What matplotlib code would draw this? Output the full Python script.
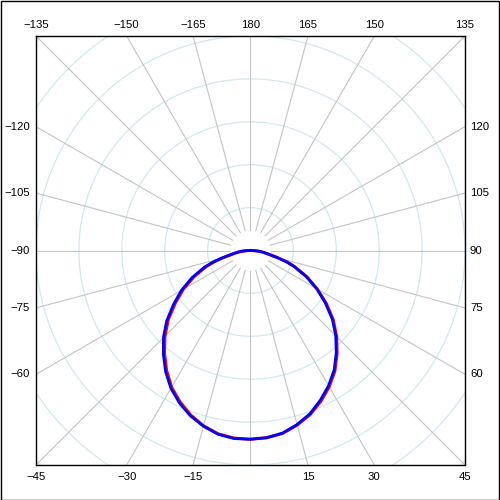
import numpy as np
import matplotlib.pyplot as plt

# pattern angles (deg, 0 = down, 90 = right) and radius (grid ring = 10)
angles = [-90, -87.5, -85, -82.5, -80, -77.5, -75, -72.5, -70, -65, -60, -55,
          -50, -45, -40, -35, -30, -25, -20, -15, -10, -5, 0, 5, 10, 15, 20,
          25, 30, 35, 40, 45, 50, 55, 60, 65, 70, 72.5, 75, 77.5, 80, 82.5,
          85, 87.5, 90]
red_r = [0.0, 1.0, 2.0, 2.8, 3.7, 4.8, 6.8, 9.0, 11.0, 14.6, 18.1, 21.4,
         25.0, 28.2, 31.2, 34.1, 36.8, 38.9, 40.8, 42.3, 43.4, 43.9, 44.0,
         43.8, 43.3, 42.1, 40.7, 38.8, 36.7, 34.3, 31.4, 28.4, 25.2, 21.6,
         18.0, 14.5, 10.9, 9.0, 6.7, 4.8, 3.7, 2.8, 2.0, 1.0, 0.0]
blue_r = [0.0, 1.0, 2.1, 3.0, 4.0, 5.1, 7.2, 9.4, 11.5, 15.1, 18.6, 21.9,
          25.5, 28.7, 31.6, 34.5, 37.1, 39.2, 41.0, 42.4, 43.5, 44.0, 44.0,
          43.8, 43.2, 42.0, 40.5, 38.5, 36.4, 34.0, 31.1, 28.1, 24.9, 21.3,
          17.8, 14.3, 10.7, 8.8, 6.6, 4.7, 3.6, 2.8, 2.0, 1.0, 0.0]

ring_values = [10, 20, 30, 40, 50, 60, 70]
spoke_angles = np.arange(-180, 180, 15)
label_angles = [-135, -150, -165, 180, 165, 150, 135,
                -120, -105, -90, -75, -60,
                120, 105, 90, 75, 60,
                -45, -30, -15, 15, 30, 45]

scale = 4.3  # px per radial unit
half = 215

fig = plt.figure(figsize=(5, 5), dpi=100)
ax = fig.add_axes([36 / 500, 35 / 500, 429 / 500, 429 / 500])
ax.set_xlim(-half, half)
ax.set_ylim(-half, half)
ax.set_xticks([])
ax.set_yticks([])
for s in ax.spines.values():
    s.set_linewidth(1.0)

# grid rings
t = np.linspace(0, 2 * np.pi, 400)
for rv in ring_values:
    ax.plot(rv * scale * np.cos(t), rv * scale * np.sin(t),
            color='#d2e8ef', lw=0.9, zorder=1)

# spokes
for a in spoke_angles:
    th = np.radians(a)
    r0, r1 = 4.8 * scale, 80 * scale
    ax.plot([r0 * np.sin(th), r1 * np.sin(th)],
            [-r0 * np.cos(th), -r1 * np.cos(th)],
            color='#c4c4c4', lw=0.8, zorder=2)

# labels where spokes leave the box
for a in label_angles:
    th = np.radians(a)
    dx, dy = np.sin(th), -np.cos(th)
    k = half / max(abs(dx), abs(dy))
    x, y = dx * k, dy * k
    txt = str(a).replace('-', '\u2212')
    kw = dict(fontsize=8.2, family='Liberation Sans', clip_on=False)
    if abs(a) >= 135:
        ax.text(x, y + 11, txt, ha='center', va='center', **kw)
    elif abs(a) <= 45:
        ax.text(x, y - 12, txt, ha='center', va='center', **kw)
    elif a < 0:
        ax.text(x - 6, y, txt, ha='right', va='center', **kw)
    else:
        ax.text(x + 5, y, txt, ha='left', va='center', **kw)

th = np.radians(angles)
rr = np.array(red_r) * scale
rb = np.array(blue_r) * scale
ax.plot(rr * np.sin(th), -rr * np.cos(th), color='red', lw=2.2, zorder=3)
ax.plot(rb * np.sin(th), -rb * np.cos(th), color='blue', lw=2.0, zorder=4)

fig.patches.append(plt.Rectangle((0.001, 0.001), 0.997, 0.997, transform=fig.transFigure,
                                 fill=False, edgecolor='black', lw=1.0))

fig.savefig('out.png', dpi=100)
